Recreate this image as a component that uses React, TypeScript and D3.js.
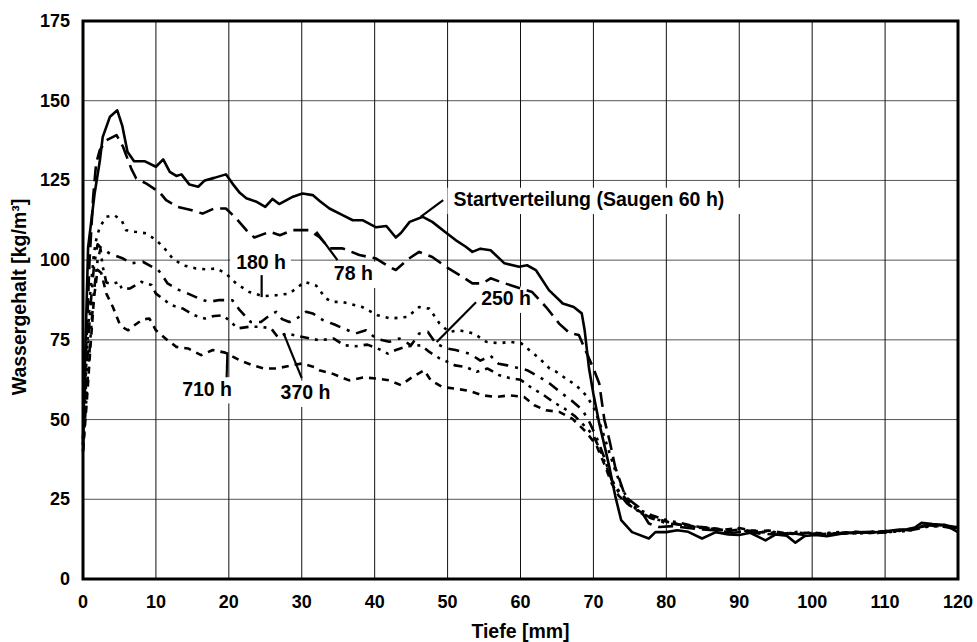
import React from "react";
import * as d3 from "d3";

const width = 977;
const height = 642;
const margin = { top: 21, right: 19, bottom: 63, left: 83 };

const xTicks = [0, 10, 20, 30, 40, 50, 60, 70, 80, 90, 100, 110, 120];
const yTicks = [0, 25, 50, 75, 100, 125, 150, 175];

// Tiefe [mm], Wassergehalt [kg/m³]
const start = [
  [0, 44], [0.3, 70], [0.7, 104], [1.6, 121], [2.3, 131], [2.7, 138.6], [3.7, 145], [4.7, 147], [5.4, 142],
  [6.1, 134], [7, 131], [8.5, 131], [10, 129.3], [11, 131.6], [11.9, 127.7], [12.8, 126.4], [13.5, 126.9],
  [14.6, 123.7], [15.8, 123], [16.7, 125], [18, 125.8], [19.6, 126.9], [20.5, 124], [21.5, 121.1], [22.4, 119.4],
  [23.7, 118.4], [25, 116.7], [26, 119.2], [26.9, 117.6], [28.8, 119.9], [30.1, 120.9], [31.5, 120.4], [32.5, 118.5],
  [33.8, 116.2], [35.6, 114.1], [37, 112.5], [38.4, 112.5], [40.2, 110.3], [41.6, 110.7], [42.9, 107.1], [43.6, 108.5],
  [44.8, 112], [46.6, 113.6], [47.9, 112], [49.8, 108.6], [51.1, 106.3], [52.5, 104.2], [53.4, 102.6], [54.5, 103.6],
  [55.9, 103.1], [57.8, 99], [59.8, 97.9], [60.9, 98.4], [62.1, 96.9], [63.9, 90.6], [65.8, 86.4], [67.3, 85.3],
  [68.4, 83.3], [68.8, 78], [69.4, 66], [70, 58], [70.8, 48.8], [71.5, 42], [72.2, 35], [73, 26], [73.8, 18.5],
  [75.3, 14.7], [77.6, 12.7], [78.5, 14.7], [80, 14.7], [81.5, 15.3], [83, 14.8], [84.9, 12.7], [86.8, 14.7],
  [88.5, 14], [90, 13.8], [91.5, 14.5], [93.6, 12.1], [95, 14], [96.5, 13.6], [97.7, 11.4], [99, 13.5], [100.5, 13.8],
  [102, 13.4], [104, 14.2], [106, 14.7], [108, 14.5], [110, 15], [112, 15.5], [113.5, 15.2], [115, 17.6], [116.5, 17.2],
  [118.3, 16.9], [120, 14.7],
];

const h78 = [
  [0, 42], [0.4, 70], [0.9, 100], [1.4, 120], [1.8, 130.3], [2.3, 134.5], [3.2, 137.6], [4.6, 139.2], [5.5, 135.5],
  [6.6, 128.8], [7.3, 125.6], [8.7, 124], [10.5, 121.3], [11.4, 118.8], [13, 116.7], [14.8, 115.7], [16.4, 114.6],
  [18, 116.2], [19.6, 116.2], [21, 113.1], [22.4, 109.4], [23.5, 107.1], [25.6, 108.9], [27, 107.8], [28.8, 109.4],
  [31, 109.4], [32.4, 107.3], [33.8, 103.7], [35.6, 103.7], [37.9, 101.6], [40.2, 100.5], [42, 97.9], [42.9, 96.9],
  [44.7, 100.5], [46.1, 102.6], [47.9, 101], [49.8, 97.9], [52, 94.8], [53.4, 92.7], [54.8, 92.7], [55.9, 94.3],
  [57.5, 93], [59.5, 91.5], [61.6, 90], [63.5, 85.3], [65.3, 80.1], [66.7, 77.2], [68, 76.5], [68.9, 71.8], [70, 66],
  [70.8, 61.3], [71.5, 50], [72.2, 43.5], [73, 35], [74.4, 25.7], [76.2, 22.6], [77.6, 17.4], [79, 16.3], [81, 16.6],
  [83, 16], [85, 15.5], [87, 15.2], [89, 14.5], [91, 14.9], [93, 14.2], [95, 14], [97, 14.4], [99, 13.8], [101, 14],
  [103, 14.3], [105, 14.5], [107, 14.7], [109, 14.4], [111, 15], [113, 15.6], [115, 16.6], [117, 16.9], [119, 16.2],
  [120, 16],
];

const h180 = [
  [0, 44], [0.5, 70], [1, 90], [1.5, 102], [1.8, 106.3], [2.3, 110.4], [3.2, 113.6], [4.3, 114.1], [5.3, 112.5],
  [5.9, 109.4], [7.1, 108.9], [8.7, 108.4], [10, 106.3], [11, 104.2], [12.3, 100.5], [13.7, 98.4], [15.5, 97.4],
  [16.9, 97.1], [18.3, 97.4], [19.6, 95.8], [21, 92.7], [22.8, 90], [24.7, 88.7], [26.5, 89], [28.3, 89.5],
  [29.2, 91.1], [30.4, 93.2], [32, 92], [33.3, 88], [34.2, 86.9], [35.6, 86.9], [38.3, 85.3], [40.4, 82.7],
  [42.2, 81.7], [44.5, 82.2], [46.1, 85.3], [47.5, 84.8], [48.9, 80.1], [50.2, 77.5], [51.6, 78], [53.6, 77],
  [55.3, 74.4], [57.1, 73.9], [58.5, 74.4], [60.1, 73.9], [61.2, 71.8], [62.6, 69.2], [64, 66], [64.9, 65],
  [66.2, 62.9], [67.6, 60.8], [69, 57.6], [70, 54], [71, 48], [72, 41], [73, 34], [74, 28], [75, 24], [76, 21.5],
  [77, 20], [78, 19], [80, 18], [82, 17], [84, 16.3], [86, 15.8], [88, 15.2], [90, 15.8], [92, 14.7], [94, 15],
  [96, 14.3], [98, 14.1], [100, 14.4], [102, 14], [104, 14.6], [106, 14.3], [108, 14.9], [110, 14.5], [112, 15.1],
  [114, 15.9], [116, 16.6], [118, 16.4], [120, 16.1],
];

const h250 = [
  [0, 42], [0.5, 65], [1, 85], [1.5, 98], [2, 105], [2.4, 104], [3.7, 102], [5.5, 100.5], [6.6, 99], [8.2, 99.5],
  [10.3, 96.9], [10.7, 95.8], [11.6, 92.7], [13.2, 90.6], [14.4, 89.5], [16.4, 87.5], [17.3, 86.9], [18.7, 87.5],
  [20.5, 87.4], [21.5, 84.3], [23, 80.6], [24.4, 80.6], [25.5, 82.5], [26.5, 83.8], [27.3, 81.5], [28.3, 80.6],
  [29.5, 82], [30.6, 83.8], [31.5, 83.3], [32.9, 81.2], [34.5, 79.8], [35.8, 78.5], [37.4, 77], [38.8, 78],
  [40.2, 75.4], [42, 74.4], [43.4, 75.4], [45, 73.3], [46.1, 77], [47.3, 77.5], [48.4, 73.9], [49.8, 72.3],
  [51.1, 71.8], [53, 70.7], [54.5, 68.5], [55.9, 70], [57, 67.5], [58.2, 67], [60.9, 65.5], [62.5, 63.5], [64, 61.3],
  [65.5, 58.5], [67, 56], [68.5, 53], [69.5, 49], [70.5, 44], [71.5, 38], [72.5, 31], [73.5, 27], [74.5, 24],
  [76, 21.5], [78, 19], [80, 17.5], [82, 17], [84, 16.2], [86, 15.8], [88, 15], [90, 15.5], [92, 14.5], [94, 14.8],
  [96, 14], [98, 14.5], [100, 14.2], [102, 14.5], [104, 14.2], [106, 14.6], [108, 14.8], [110, 14.5], [112, 15.2],
  [114, 16], [116, 17], [118, 16.8], [120, 16.2],
];

const h370 = [
  [0, 40], [0.5, 58], [1, 75], [1.5, 90], [2, 100], [2.4, 103.5], [2.7, 98], [3.2, 93], [4, 92.5], [5, 93.2],
  [5.3, 91], [6.4, 91.1], [8, 93.2], [9.4, 92.2], [10, 89.5], [12.1, 85.9], [13.7, 84.8], [15.3, 82.7], [16.7, 81.7],
  [18, 82.5], [19.2, 82.7], [20.3, 80.6], [21.2, 78.6], [22.8, 79.1], [24.4, 79.1], [25.8, 78.6], [26.7, 75.9],
  [28, 77], [29.5, 76.2], [31, 75.5], [32.4, 74.9], [34.4, 75.4], [35.8, 73.3], [37.4, 73], [39, 73.5], [40.4, 72.3],
  [41.8, 70.7], [42.9, 71.8], [44.5, 73], [46.4, 73.3], [47.5, 71.2], [48.9, 69.2], [50, 68.1], [51, 67],
  [52.5, 66.5], [54, 65], [55.5, 66], [57, 64], [58.5, 63], [60, 62.5], [61.5, 60], [63, 58], [64.5, 55.5],
  [66, 53.5], [67.5, 51], [69, 47.5], [70, 45], [71, 40], [72, 34], [73, 29], [74.5, 25], [76, 22], [78, 20],
  [80, 18.5], [82, 17.5], [84, 16.5], [86, 16], [88, 15.3], [90, 14.8], [92, 15.2], [94, 14.5], [96, 14.2],
  [98, 14.8], [100, 14], [102, 14.3], [104, 14.8], [106, 14.2], [108, 14.6], [110, 15], [112, 14.8], [114, 15.5],
  [116, 16.5], [118, 17], [120, 16],
];

const h710 = [
  [0, 40], [0.5, 55], [1, 72], [1.5, 88], [2, 97], [2.5, 96], [3.2, 89.5], [4.1, 85.3], [5, 80.1], [5.7, 78.6],
  [6.2, 78], [7, 79.5], [8.2, 81.4], [9.1, 81.7], [10, 78], [11.6, 74.9], [12.8, 72.8], [14.4, 72.3], [16.2, 70.2],
  [17.8, 71.8], [19.5, 71], [21.5, 68.6], [23.3, 67], [24.9, 66], [26.5, 66], [28.6, 67], [30.1, 67.6], [31.7, 66.5],
  [32.4, 65.5], [34.2, 64.4], [36.5, 62.3], [38.4, 63.2], [40.2, 62.9], [42, 62.3], [43.6, 60.8], [45.2, 63.4],
  [46.8, 65.5], [47.7, 62.3], [49.3, 60.2], [51.1, 59.7], [53, 59], [54.8, 57.6], [56.6, 57.1], [58.5, 57.6],
  [60.5, 57.1], [61.9, 54.5], [63.5, 52.9], [65.3, 52.4], [67.1, 50.3], [69, 46.1], [70.4, 42], [71.5, 36],
  [72.5, 30], [73.5, 26], [75, 23], [76.5, 21], [78, 19.5], [80, 18], [82, 17], [84, 16.5], [86, 16], [88, 15.5],
  [90, 16], [92, 15], [94, 15.2], [96, 14.5], [98, 14.2], [100, 14.6], [102, 14], [104, 14.5], [106, 14.8],
  [108, 14.4], [110, 15], [112, 15.2], [114, 15.8], [116, 16.8], [118, 16.5], [120, 15.5],
];

const series = [
  { name: "Startverteilung", data: start, dash: null },
  { name: "78 h", data: h78, dash: "15,7" },
  { name: "180 h", data: h180, dash: "3,6" },
  { name: "250 h", data: h250, dash: "11,7,3,7" },
  { name: "370 h", data: h370, dash: "9,6,3,6,3,6" },
  { name: "710 h", data: h710, dash: "7,6" },
];

// label text position and leader line, in data units
const labels = [
  { text: "Startverteilung (Saugen 60 h)", x: 50.8, y: 116.9, line: [[49.4, 118.8], [46.3, 113.6]] },
  { text: "78 h", x: 34.4, y: 93.7, line: [[34.9, 100], [32, 108.9]] },
  { text: "180 h", x: 21.0, y: 97.2, line: [[24.5, 95.3], [24.5, 88.4]] },
  { text: "250 h", x: 54.6, y: 85.9, line: [[53.9, 86.8], [48.5, 74.3]] },
  { text: "710 h", x: 13.6, y: 57.5, line: [[19.7, 63.3], [19.8, 71.1]] },
  { text: "370 h", x: 27.1, y: 56.4, line: [[30, 63], [27.5, 77.1]] },
];

const font = "'Liberation Sans', Arial, sans-serif";

export default function App() {
  const x = d3.scaleLinear().domain([0, 120]).range([margin.left, width - margin.right]);
  const y = d3.scaleLinear().domain([0, 175]).range([height - margin.bottom, margin.top]);
  const line = d3
    .line<number[]>()
    .x(d => x(d[0]))
    .y(d => y(d[1]));

  const labelSize = 19.5;
  const tickSize = 18;
  const titleSize = 19.5;

  return (
    <svg
      width={width}
      height={height}
      style={{ position: "absolute", left: 0, top: 0, background: "#fff" }}
      fontFamily={font}
      fontWeight="bold"
    >
      <rect width={width} height={height} fill="#fff" />
      {yTicks.map(t => (
        <line key={"gy" + t} x1={x(0)} x2={x(120)} y1={y(t)} y2={y(t)} stroke="#555" strokeWidth={1} />
      ))}
      {xTicks.map(t => (
        <line key={"gx" + t} x1={x(t)} x2={x(t)} y1={y(0)} y2={y(175)} stroke="#111" strokeWidth={1} />
      ))}

      {labels.map(l => {
        const w = l.text.length * labelSize * 0.52;
        return (
          <rect
            key={"bg" + l.text}
            x={x(l.x) - 6}
            y={y(l.y) - labelSize * 0.95}
            width={w + 10}
            height={labelSize * 1.35}
            fill="#fff"
          />
        );
      })}

      {series.map(s => (
        <path
          key={s.name}
          d={line(s.data) || ""}
          fill="none"
          stroke="#000"
          strokeWidth={2.6}
          strokeDasharray={s.dash || undefined}
          strokeLinejoin="round"
        />
      ))}

      {labels.map(l => (
        <g key={"lb" + l.text}>
          <line
            x1={x(l.line[0][0])}
            y1={y(l.line[0][1])}
            x2={x(l.line[1][0])}
            y2={y(l.line[1][1])}
            stroke="#000"
            strokeWidth={2.2}
          />
          <text x={x(l.x)} y={y(l.y)} fontSize={labelSize}>
            {l.text}
          </text>
        </g>
      ))}

      <rect
        x={x(0)}
        y={y(175)}
        width={x(120) - x(0)}
        height={y(0) - y(175)}
        fill="none"
        stroke="#000"
        strokeWidth={3}
      />

      {yTicks.map(t => (
        <text key={"ty" + t} x={x(0) - 13} y={y(t) + 6} textAnchor="end" fontSize={tickSize}>
          {t}
        </text>
      ))}
      {xTicks.map(t => (
        <text key={"tx" + t} x={x(t)} y={y(0) + 29} textAnchor="middle" fontSize={tickSize}>
          {t}
        </text>
      ))}

      <text x={(x(0) + x(120)) / 2} y={638} textAnchor="middle" fontSize={titleSize}>
        Tiefe [mm]
      </text>
      <text transform="translate(26,297) rotate(-90)" textAnchor="middle" fontSize={titleSize}>
        Wassergehalt [kg/m³]
      </text>
    </svg>
  );
}
